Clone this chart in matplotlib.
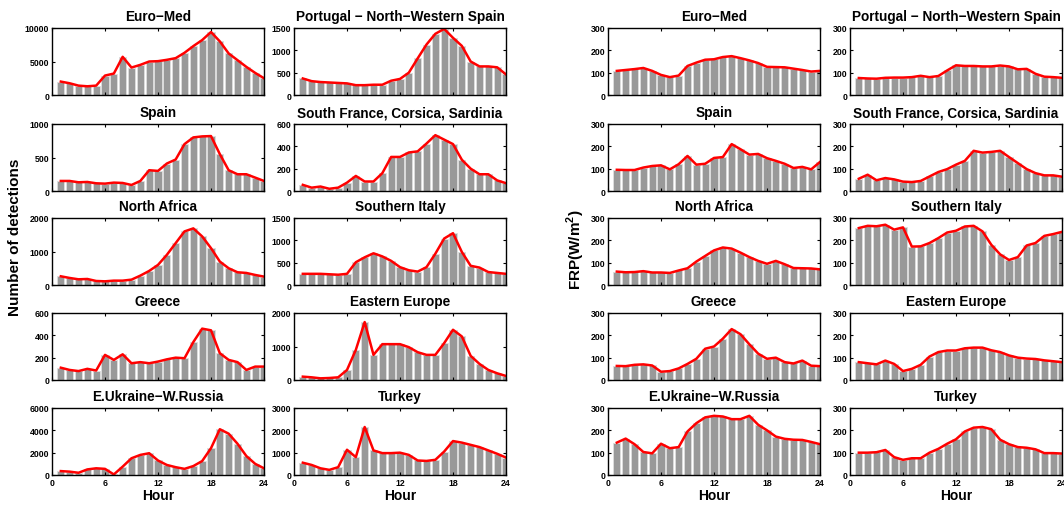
import numpy as np
import matplotlib
matplotlib.use('Agg')
import matplotlib.pyplot as plt

plt.rcParams['font.family'] = ['Liberation Sans', 'DejaVu Sans']
plt.rcParams['font.weight'] = 'bold'
plt.rcParams['mathtext.fontset'] = 'custom'
plt.rcParams['mathtext.bf'] = 'Liberation Sans:bold'
plt.rcParams['mathtext.rm'] = 'Liberation Sans:bold'

hours = np.arange(1, 25)
hour_ticks = [0, 6, 12, 18, 24]

titles = ['Euro\u2212Med', 'Portugal \u2212 North\u2212Western Spain',
          'Spain', 'South France, Corsica, Sardinia',
          'North Africa', 'Southern Italy',
          'Greece', 'Eastern Europe',
          'E.Ukraine\u2212W.Russia', 'Turkey']

# number of detections per hour
det_euromed = [2000, 1750, 1400, 1300, 1400, 2900, 3200, 5700, 4100, 4500, 5000, 5050,
               5250, 5500, 6300, 7300, 8200, 9400, 8000, 6200, 5200, 4200, 3300, 2500]
det_portugal = [370, 310, 290, 280, 270, 260, 220, 220, 230, 230, 320, 360,
                500, 820, 1130, 1370, 1480, 1280, 1100, 750, 640, 640, 620, 460]
det_spain = [150, 150, 130, 135, 115, 110, 125, 120, 90, 150, 310, 300,
             410, 470, 700, 800, 815, 820, 550, 310, 250, 250, 200, 150]
det_sfrance = [55, 30, 40, 20, 30, 75, 135, 85, 85, 160, 305, 305,
               345, 355, 425, 500, 460, 420, 280, 200, 150, 150, 95, 70]
det_nafrica = [260, 210, 170, 180, 120, 110, 130, 130, 160, 280, 420, 600,
               900, 1250, 1600, 1690, 1450, 1100, 700, 500, 380, 360, 300, 250]
det_sitaly = [250, 250, 250, 240, 230, 250, 510, 620, 710, 640, 540, 400,
              330, 300, 400, 700, 1040, 1160, 740, 430, 390, 290, 270, 250]
det_greece = [110, 90, 80, 100, 85, 225, 180, 230, 150, 160, 150, 165,
              185, 200, 195, 340, 460, 445, 240, 180, 160, 90, 120, 120]
det_eeurope = [100, 80, 50, 60, 80, 300, 900, 1730, 750, 1070, 1070, 1070,
               980, 830, 750, 750, 1100, 1500, 1300, 720, 480, 300, 200, 120]
det_ukraine = [350, 300, 200, 500, 600, 550, 50, 750, 1500, 1800, 1950, 1300,
               900, 700, 550, 800, 1250, 2400, 4100, 3700, 2800, 1700, 1000, 600]
det_turkey = [550, 450, 300, 230, 350, 1130, 800, 2150, 1100, 980, 980, 1000,
              900, 650, 630, 680, 1050, 1520, 1450, 1350, 1250, 1100, 950, 780]

# mean FRP per hour (W/m2)
frp_euromed = [108, 112, 116, 121, 108, 90, 80, 87, 130, 145, 158, 160,
               170, 174, 165, 155, 143, 126, 125, 124, 118, 112, 105, 108]
frp_portugal = [76, 74, 73, 77, 78, 78, 80, 86, 80, 85, 110, 133,
                130, 130, 128, 128, 132, 128, 115, 117, 95, 82, 80, 77]
frp_spain = [95, 94, 94, 105, 112, 115, 97, 120, 157, 118, 122, 148,
             152, 210, 187, 163, 166, 147, 135, 122, 103, 108, 97, 130]
frp_sfrance = [55, 73, 48, 58, 52, 42, 40, 45, 65, 85, 98, 118,
               135, 180, 172, 175, 180, 152, 125, 98, 80, 70, 70, 64]
frp_nafrica = [60, 57, 58, 62, 56, 56, 54, 65, 75, 105, 130, 155,
               168, 163, 145, 125, 108, 95, 108, 93, 76, 75, 74, 70]
frp_sitaly = [255, 265, 263, 270, 248, 258, 172, 173, 188, 210, 235, 243,
              262, 265, 240, 180, 137, 112, 125, 177, 188, 220, 228, 238]
frp_greece = [63, 62, 68, 70, 65, 37, 40, 52, 72, 95, 140, 150,
              185, 228, 205, 160, 118, 95, 100, 80, 74, 87, 64, 62]
frp_eeurope = [80, 75, 70, 87, 72, 40, 50, 68, 105, 125, 132, 132,
               142, 145, 145, 133, 125, 110, 100, 96, 94, 88, 84, 80]
frp_ukraine = [145, 163, 138, 103, 97, 140, 120, 125, 195, 232, 258, 265,
               262, 250, 250, 265, 225, 200, 172, 162, 158, 157, 148, 138]
frp_turkey = [100, 100, 102, 112, 80, 68, 75, 75, 100, 117, 140, 160,
              195, 212, 215, 205, 158, 138, 125, 122, 115, 98, 98, 96]

det_series = [det_euromed, det_portugal, det_spain, det_sfrance, det_nafrica,
              det_sitaly, det_greece, det_eeurope, det_ukraine, det_turkey]
det_yticks = [[0, 5000, 10000], [0, 500, 1000, 1500], [0, 500, 1000], [0, 200, 400, 600],
              [0, 1000, 2000], [0, 500, 1000, 1500], [0, 200, 400, 600], [0, 1000, 2000],
              [0, 2000, 4000, 6000], [0, 1000, 2000, 3000]]
frp_series = [frp_euromed, frp_portugal, frp_spain, frp_sfrance, frp_nafrica,
              frp_sitaly, frp_greece, frp_eeurope, frp_ukraine, frp_turkey]
frp_yticks = [[0, 100, 200, 300]] * 10

W, H = 1064, 506
fig = plt.figure(figsize=(W / 100, H / 100), dpi=100)

col_left = [52, 294, 608, 850]
row_top = [29, 125, 219, 314, 409]
aw, ah = 212, 67


def panel(col, row, y, yticks, title):
    ax = fig.add_axes([col_left[col] / W, (H - row_top[row] - ah) / H, aw / W, ah / H])
    ax.bar(hours, y, width=0.8, color='#999999', edgecolor='#dcdcdc', linewidth=0.7)
    ax.plot(hours, y, color='red', lw=1.8)
    ax.set_xlim(0, 24)
    ax.set_ylim(0, yticks[-1])
    ax.set_xticks(hour_ticks)
    ax.set_yticks(yticks)
    ax.tick_params(direction='in', top=True, right=True, length=2.5, width=0.8,
                   labelsize=6.3, pad=2)
    for lab in ax.get_xticklabels() + ax.get_yticklabels():
        lab.set_fontweight('bold')
    for s in ax.spines.values():
        s.set_linewidth(1.0)
    ax.set_title(title, fontsize=9.8, fontweight='bold', pad=5.5)
    if row == 4:
        ax.set_xlabel('Hour', fontsize=10, fontweight='bold', labelpad=1)
    else:
        ax.set_xticklabels([])
    return ax


for i in range(10):
    r, c = divmod(i, 2)
    panel(c, r, det_series[i], det_yticks[i], titles[i])
    panel(c + 2, r, frp_series[i], frp_yticks[i], titles[i])

fig.text(15 / W, 1 - 237 / H, 'Number of detections', rotation=90, fontsize=11,
         fontweight='bold', ha='center', va='center')
fig.text(576 / W, 1 - 250 / H, 'FRP(W/m$^{\\mathbf{2}}$)', rotation=90, fontsize=11,
         fontweight='bold', ha='center', va='center')

fig.savefig('out.png', dpi=100)
